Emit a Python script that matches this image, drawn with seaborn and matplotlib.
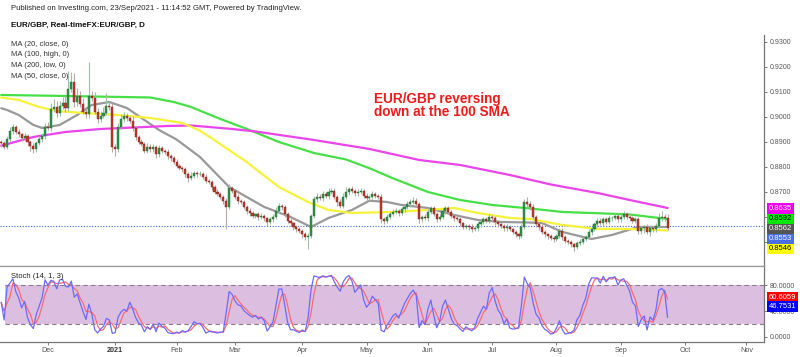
import numpy as np
import pandas as pd
import seaborn as sns
import matplotlib.pyplot as plt

# EUR/GBP daily candles, 9 Nov 2020 .. 23 Sep 2021, prices in pips (x 0.0001)
first_open = 8900
closes = [
    8895, 8880, 8910, 8945, 8960, 8940, 8930, 8915, 8925, 8900,
    8885, 8870, 8895, 8910, 8925, 8960, 8955, 9030, 9040, 9015,
    9045, 9055, 9035, 9110, 9140, 9060, 9085, 9050, 9020, 9010,
    9085, 9075, 9020, 8990, 9005, 9015, 9045, 9040, 8880, 8870,
    8960, 8990, 9005, 8995, 8985, 8955, 8920, 8900, 8890, 8865,
    8880, 8870, 8880, 8850, 8875, 8865, 8860, 8845, 8835, 8820,
    8805, 8795, 8790, 8770, 8755, 8765, 8775, 8770, 8770, 8760,
    8745, 8740, 8720, 8700, 8690, 8680, 8665, 8640, 8715, 8705,
    8680, 8665, 8660, 8640, 8625, 8615, 8605, 8610, 8600, 8605,
    8595, 8580, 8590, 8600, 8625, 8645, 8640, 8610, 8585, 8575,
    8560, 8550, 8545, 8530, 8520, 8525, 8605, 8670, 8680, 8675,
    8690, 8685, 8700, 8705, 8680, 8660, 8645, 8680, 8700, 8710,
    8705, 8695, 8700, 8705, 8685, 8675, 8680, 8690, 8685, 8680,
    8590, 8585, 8600, 8610, 8620, 8625, 8615, 8630, 8640, 8650,
    8660, 8665, 8650, 8590, 8600, 8595, 8620, 8635, 8610, 8590,
    8600, 8625, 8635, 8620, 8605, 8595, 8590, 8575, 8560, 8565,
    8560, 8550, 8555, 8570, 8580, 8590, 8585, 8600, 8595, 8580,
    8570, 8565, 8555, 8560, 8550, 8540, 8530, 8525, 8560, 8660,
    8650, 8640, 8600, 8570, 8560, 8540, 8530, 8525, 8515, 8510,
    8525, 8545, 8520, 8505, 8500, 8490, 8480, 8495, 8500, 8510,
    8520, 8540, 8550, 8570, 8585, 8575, 8590, 8580, 8595, 8595,
    8605, 8590, 8600, 8610, 8600, 8595, 8585, 8590, 8545, 8555,
    8560, 8540, 8555, 8550, 8565, 8595, 8600, 8595, 8555,
]
# wick length above / below the body, pips
upper_wick = [
    8, 10, 12, 15, 10, 8, 12, 6, 10, 8,
    6, 10, 8, 12, 10, 14, 20, 25, 30, 22,
    18, 25, 30, 75, 40, 35, 30, 20, 25, 15,
    135, 20, 25, 15, 20, 25, 50, 20, 15, 10,
    15, 20, 15, 12, 10, 18, 10, 8, 12, 10,
    15, 10, 12, 8, 12, 10, 8, 10, 6, 10,
    12, 8, 10, 8, 10, 15, 10, 8, 12, 8,
    10, 8, 6, 8, 10, 8, 6, 10, 15, 10,
    8, 10, 8, 6, 8, 10, 8, 6, 8, 10,
    8, 6, 10, 12, 15, 10, 8, 6, 8, 10,
    6, 8, 10, 6, 8, 10, 8, 12, 15, 10,
    12, 10, 15, 12, 10, 8, 12, 15, 20, 10,
    12, 8, 10, 12, 8, 10, 8, 12, 10, 8,
    10, 8, 10, 8, 12, 10, 8, 10, 8, 12,
    10, 15, 12, 10, 8, 12, 10, 8, 10, 8,
    10, 12, 8, 10, 8, 6, 10, 8, 6, 8,
    8, 10, 6, 8, 10, 8, 10, 12, 8, 10,
    8, 6, 8, 10, 8, 6, 8, 6, 10, 12,
    20, 15, 10, 8, 8, 10, 8, 6, 8, 10,
    8, 12, 10, 8, 6, 8, 6, 8, 10, 8,
    8, 10, 8, 10, 12, 10, 8, 10, 12, 8,
    10, 8, 10, 12, 8, 10, 8, 10, 8, 10,
    8, 10, 8, 10, 12, 20, 25, 10, 15,
]
lower_wick = [
    15, 10, 8, 10, 12, 8, 10, 12, 8, 15,
    20, 15, 10, 8, 10, 12, 8, 10, 12, 15,
    10, 12, 15, 10, 12, 20, 15, 12, 10, 15,
    15, 12, 10, 15, 12, 10, 8, 12, 20, 25,
    10, 8, 12, 10, 8, 10, 12, 10, 8, 10,
    8, 12, 10, 15, 10, 8, 10, 12, 10, 8,
    10, 8, 12, 10, 15, 8, 10, 12, 8, 10,
    8, 10, 12, 10, 8, 10, 12, 90, 10, 8,
    10, 12, 8, 10, 12, 10, 8, 10, 12, 8,
    10, 15, 8, 10, 8, 10, 12, 10, 8, 10,
    12, 10, 8, 15, 12, 50, 8, 10, 12, 8,
    10, 8, 12, 10, 8, 15, 10, 8, 10, 12,
    8, 10, 12, 8, 10, 12, 8, 10, 8, 10,
    15, 12, 8, 10, 8, 10, 12, 8, 10, 8,
    10, 8, 12, 15, 10, 8, 12, 10, 8, 10,
    8, 10, 12, 8, 10, 12, 8, 10, 8, 10,
    12, 10, 8, 10, 12, 8, 10, 8, 10, 12,
    10, 8, 10, 12, 8, 10, 12, 15, 10, 8,
    10, 12, 8, 10, 12, 8, 10, 12, 8, 10,
    8, 10, 12, 8, 10, 12, 15, 10, 8, 10,
    8, 10, 12, 8, 10, 8, 12, 10, 8, 10,
    8, 10, 12, 8, 10, 12, 8, 10, 15, 12,
    20, 10, 15, 12, 10, 8, 10, 12, 8,
]

# moving averages (bar index, value)
ma20_idx = [0, 2, 6, 11, 14, 20, 26, 31, 37, 43, 48, 54, 60, 68, 78, 90, 99, 106, 112, 120,
            126, 132, 137, 146, 155, 163, 171, 180, 185, 192, 202, 209, 218, 228]
ma20_val = [0.9035, 0.9028, 0.9008, 0.8968, 0.8956, 0.8968, 0.9008, 0.9048, 0.9060, 0.9036,
            0.8996, 0.8948, 0.8910, 0.8840, 0.8720, 0.8640, 0.8600, 0.8560, 0.8596, 0.8628,
            0.8665, 0.8660, 0.8648, 0.8636, 0.8608, 0.8588, 0.8580, 0.8578, 0.8576, 0.8540,
            0.8512, 0.8528, 0.8560, 0.8560]
ma50_idx = [0, 6, 13, 19, 28, 40, 51, 62, 68, 72, 84, 95, 105, 112, 120, 134, 146, 155, 163, 174,
            181, 192, 204, 215, 228]
ma50_val = [0.9078, 0.9068, 0.9040, 0.9024, 0.9016, 0.9008, 0.8996, 0.8976, 0.8945, 0.8915,
            0.8820, 0.8720, 0.8660, 0.8628, 0.8616, 0.8620, 0.8628, 0.8636, 0.8616, 0.8596,
            0.8592, 0.8568, 0.8552, 0.8552, 0.8546]
ma100_idx = [0, 17, 41, 51, 59, 65, 67, 75, 85, 95, 107, 118, 126, 134, 146, 157, 168, 181, 192,
             204, 215, 228]
ma100_val = [0.9088, 0.9085, 0.9080, 0.9078, 0.9060, 0.9040, 0.9030, 0.8992, 0.8948, 0.8900,
             0.8856, 0.8830, 0.8795, 0.8755, 0.8700, 0.8668, 0.8648, 0.8634, 0.8620, 0.8615,
             0.8610, 0.8592]
ma200_idx = [0, 11, 22, 34, 57, 65, 79, 87, 107, 126, 143, 157, 174, 188, 204, 215, 228]
ma200_val = [0.8885, 0.8920, 0.8940, 0.8952, 0.8964, 0.8966, 0.8952, 0.8942, 0.8908, 0.8872,
             0.8828, 0.8808, 0.8768, 0.8730, 0.8696, 0.8668, 0.8636]

ma_names = ['MA (20, close, 0)', 'MA (100, high, 0)', 'MA (200, low, 0)', 'MA (50, close, 0)']

last_price = 0.8562
price_ticks = [0.85, 0.86, 0.87, 0.88, 0.89, 0.90, 0.91, 0.92, 0.93]
price_tags = [0.8635, 0.8592, 0.8562, 0.8553, 0.8546]
price_tag_bg = ['#f000f0', '#00e600', '#555555', '#4a6fe3', '#ffff00']
price_tag_fg = ['white', 'black', 'white', 'white', 'black']
stoch_tags = [60.6059, 46.7531]
stoch_tag_bg = ['#ff0000', '#0000ff']
month_labels = ['Dec', '2021', 'Feb', 'Mar', 'Apr', 'May', 'Jun', 'Jul', 'Aug', 'Sep', 'Oct', 'Nov']

sns.set_style('white')
plt.rcParams['font.family'] = ['Liberation Sans', 'DejaVu Sans']

n = len(closes)
idx = np.arange(n)
c = np.array(closes) / 10000
o = np.r_[first_open, closes[:-1]] / 10000
hi = np.maximum(o, c) + np.array(upper_wick) / 10000
lo = np.minimum(o, c) - np.array(lower_wick) / 10000
df = pd.DataFrame({'open': o, 'high': hi, 'low': lo, 'close': c})

# stochastic (14, 1, 3)
hh = df['high'].rolling(14, min_periods=1).max()
ll = df['low'].rolling(14, min_periods=1).min()
df['k'] = 100 * (df['close'] - ll) / (hh - ll)
df['d'] = df['k'].rolling(3, min_periods=1).mean()

# month ticks on a business-day axis
days = pd.bdate_range('2020-11-09', periods=262)
s = pd.Series(np.arange(len(days)), index=days)
month_pos = s.groupby([s.index.year, s.index.month]).first().values[1:]

fig = plt.figure(figsize=(8, 3.57), dpi=100)
ax1 = fig.add_axes([0, 0.255, 0.955, 0.647])
ax2 = fig.add_axes([0, 0.042, 0.955, 0.213])

xmin, xmax = -0.41, 261

# candles
up = df['close'] >= df['open']
ax1.vlines(idx, df['low'], df['high'], color=np.where(up, '#9fbfa6', '#b9a9a9'), lw=0.8, zorder=3)
body_lo = np.minimum(df['open'], df['close'])
body_h = np.maximum((df['close'] - df['open']).abs(), 0.00012)
ax1.bar(idx, body_h, bottom=body_lo, width=0.72,
        color=np.where(up, '#2f9447', '#c0392b'),
        edgecolor=np.where(up, '#1f6b33', '#7a231c'), lw=0.3, zorder=4)

for xs, ys, col in [(ma20_idx, ma20_val, '#999999'), (ma100_idx, ma100_val, '#46e046'),
                    (ma200_idx, ma200_val, '#ea44ea'), (ma50_idx, ma50_val, '#f7f23a')]:
    sns.lineplot(x=xs, y=ys, color=col, lw=1.6, estimator=None, ax=ax1, zorder=2)

ax1.axhline(last_price, color='#3e66e0', ls=(0, (1, 1.5)), lw=0.8, zorder=1)

ax1.set_xlim(xmin, xmax)
ax1.set_ylim(0.8404, 0.9328)
ax1.set_xticks([])
# 0.85 / 0.86 sit under the coloured tags, so their labels are left blank
ax1.set_yticks(price_ticks)
ax1.set_yticklabels(['' if v < 0.865 else f'{v:.4f}' for v in price_ticks])
ax1.yaxis.tick_right()
ax1.tick_params(axis='y', length=2, width=0.6, color='#666666', labelsize=5, labelcolor='#555555', pad=2)
ax1.set_xlabel('')
ax1.set_ylabel('')
for side in ['left', 'top']:
    ax1.spines[side].set_visible(False)
ax1.spines['right'].set_color('#777777')
ax1.spines['bottom'].set_color('#999999')
ax1.spines['right'].set_linewidth(0.9)
ax1.spines['bottom'].set_linewidth(0.9)

# stacked price tags on the right axis
ytr = ax1.get_yaxis_transform()
slot = None
for v, bg, fg in zip(price_tags, price_tag_bg, price_tag_fg):
    slot = v if slot is None else min(v, slot - 0.0040)
    ax1.text(1.006, slot, f'{v:.4f}', transform=ytr, ha='left', va='center', fontsize=5.5,
             color=fg, clip_on=False, zorder=6,
             bbox=dict(boxstyle='square,pad=0.25', fc=bg, ec='none'))

# stochastic panel
ax2.axhspan(20, 80, xmin=5 / 764, color='#dcbfe0', lw=0, zorder=0)
for lvl in [20, 80]:
    ax2.axhline(lvl, xmin=5 / 764, color='#8d7b8d', ls=(0, (4, 3)), lw=0.8, zorder=1)
sns.lineplot(x=idx, y=df['k'], color='#6a6aff', lw=0.9, estimator=None, ax=ax2, zorder=3)
sns.lineplot(x=idx, y=df['d'], color='#ff6a6a', lw=0.9, estimator=None, ax=ax2, zorder=2)
ax2.set_xlim(xmin, xmax)
ax2.set_ylim(-7.8, 109.8)
ax2.set_yticks([0, 40, 80])
ax2.set_yticklabels(['0.0000', '40.0000', '80.0000'])
ax2.yaxis.tick_right()
ax2.tick_params(axis='y', length=2, width=0.6, color='#666666', labelsize=5, labelcolor='#555555', pad=2)
ax2.set_xticks(month_pos)
ax2.set_xticklabels(month_labels)
ax2.tick_params(axis='x', bottom=True, length=2, width=0.6, color='#666666', labelsize=5.2,
                labelcolor='#555555', pad=1.5)
for lab in ax2.get_xticklabels():
    if lab.get_text() == '2021':
        lab.set_fontweight('bold')
        lab.set_color('#333333')
ax2.set_xlabel('')
ax2.set_ylabel('')
ax2.spines['left'].set_visible(False)
for side in ['top', 'bottom', 'right']:
    ax2.spines[side].set_color('#777777')
    ax2.spines[side].set_linewidth(0.9)
ax2.spines['top'].set_color('#999999')

ytr2 = ax2.get_yaxis_transform()
for v, bg in zip(stoch_tags, stoch_tag_bg):
    ax2.text(1.006, v, f'{v:.4f}', transform=ytr2, ha='left', va='center', fontsize=5.5,
             color='white', clip_on=False, zorder=6,
             bbox=dict(boxstyle='square,pad=0.25', fc=bg, ec='none'))

ax2.text(11 / 764, 0.867, 'Stoch (14, 1, 3)', transform=ax2.transAxes, ha='left', va='center',
         fontsize=5.5, color='#222222')

# header and legend texts
fig.text(11 / 800, 1 - 8 / 357, 'Published on Investing.com, 23/Sep/2021 - 11:14:52 GMT, Powered by TradingView.',
         ha='left', va='center', fontsize=5.6, color='#222222')
fig.text(11 / 800, 1 - 25 / 357, 'EUR/GBP, Real-timeFX:EUR/GBP, D', ha='left', va='center',
         fontsize=5.8, fontweight='bold', color='#111111')
for k, name in enumerate(ma_names):
    fig.text(11 / 800, 1 - (44 + 10.8 * k) / 357, name, ha='left', va='center', fontsize=5.5, color='#333333')

fig.text(374 / 800, 1 - 92 / 357, 'EUR/GBP reversing\ndown at the 100 SMA', ha='left', va='top',
         fontsize=9.8, fontweight='bold', color='#f01a1a', linespacing=0.95)

fig.savefig('out.png', dpi=100)
